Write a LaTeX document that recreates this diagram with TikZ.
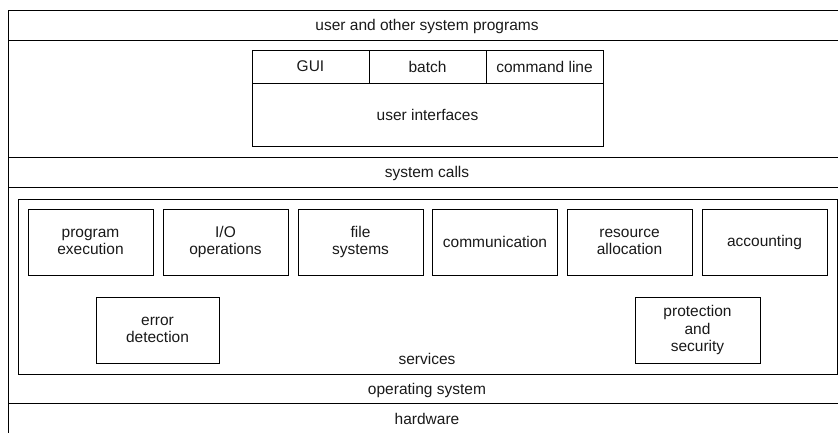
\documentclass[tikz,border=0pt]{standalone}
\usepackage{fontspec}
\setmainfont{Liberation Sans}
\begin{document}
\begin{tikzpicture}[x=1pt,y=-1pt,line width=0.7pt,
  every node/.style={font=\fontsize{15.5}{17.5}\selectfont, text=black!90},
  lbl/.style={inner sep=0pt, align=center},
  cell/.style={draw, inner sep=0pt, align=center, minimum height=33pt, minimum width=117pt},
  svcbox/.style={draw, inner sep=0pt, align=center, minimum width=125pt, minimum height=66pt}]
\useasboundingbox (0,0) rectangle (838,432);
% layer frame
\coordinate (tl) at (8,10);
\coordinate (tr) at (840,10);
\coordinate (bl) at (8,434);
\draw (bl) -- (tl) -- (tr);
\foreach \yy in {40,157,187,403} \draw (8,\yy) -- (840,\yy);
% layer labels
\node[lbl] (uosp) at (427,26) {user and other system programs};
\node[lbl] (sc) at (427,173) {system calls};
\node[lbl] (os) at (427,390) {operating system};
\node[lbl] (hw) at (427,419) {hardware};
% user interfaces
\node[cell] (gui) at (310.5,66.5) {GUI};
\node[cell] (batch) at (427.5,66.5) {batch};
\node[cell] (cmd) at (544.5,66.5) {command line};
\node[draw, inner sep=0pt, minimum width=351pt, minimum height=63pt] (ui) at (427.5,114.5) {user interfaces};
% services
\node[draw, inner sep=0pt, minimum width=819pt, minimum height=175pt] (svc) at (427.5,286.5) {};
\node[lbl] (svclbl) at (427,359) {services};
\node[svcbox] (pe) at (90.5,242) {program\\execution};
\node[svcbox] (io) at (225.5,242) {I/O\\operations};
\node[svcbox] (fs) at (360.5,242) {file\\systems};
\node[svcbox] (comm) at (495,242) {communication};
\node[svcbox] (ra) at (629.5,242) {resource\\allocation};
\node[svcbox] (acc) at (764.5,242) {accounting};
\node[svcbox, minimum width=123pt] (ed) at (157.5,330) {error\\detection};
\node[svcbox] (ps) at (697.5,330) {protection\\and\\security};
\end{tikzpicture}
\end{document}
